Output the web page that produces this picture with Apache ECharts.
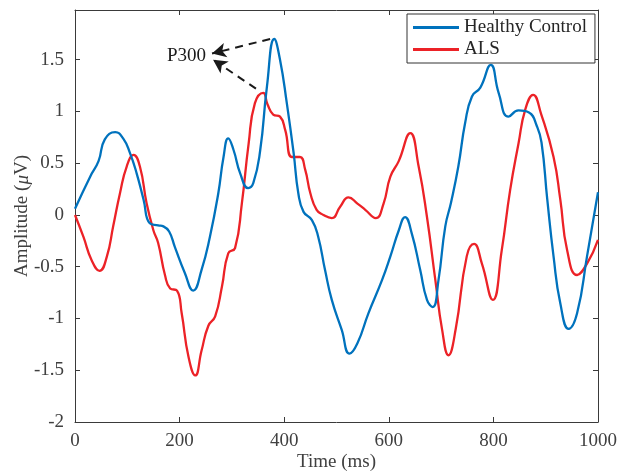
<!DOCTYPE html>
<html lang="en">
<head>
    <meta charset="UTF-8">
    <title>ERP P300</title>
    <script src="https://cdn.jsdelivr.net/npm/echarts@6/dist/echarts.min.js"></script>
    <style type="text/css">
        html, body {
          height: 100%;
          margin: 0;
          background-color: #ffffff;
        }
        #main {
          width: 621px;
          height: 474px;
          margin: 0;
        }
    </style>
</head>
<body>
    <div id="main"></div>
    <script type="text/javascript">
        // Healthy control curve (time in ms, amplitude in uV)
        var hcTime = [0, 29, 45, 57, 77, 92, 105, 118, 131, 143, 159, 169, 180, 191, 210, 226, 242, 258, 274, 284,
                      293, 303, 316, 331, 341, 354, 367, 381, 392, 405, 418, 427, 437, 453, 465, 478, 491, 510, 525, 540,
                      561, 587, 603, 619, 631, 644, 660, 673, 684, 695, 708, 719, 733, 746, 759, 775, 795, 810, 829, 848,
                      868, 883, 892, 903, 915, 928, 944, 960, 979, 1000];
        var hcAmp  = [0.06, 0.37, 0.52, 0.73, 0.80, 0.74, 0.60, 0.40, 0.15, -0.08, -0.10, -0.11, -0.16, -0.31, -0.56, -0.73, -0.53, -0.21, 0.21, 0.56,
                      0.74, 0.63, 0.40, 0.26, 0.31, 0.62, 1.24, 1.70, 1.50, 1.08, 0.60, 0.21, 0.03, -0.05, -0.21, -0.53, -0.82, -1.11, -1.34, -1.24,
                      -0.95, -0.63, -0.40, -0.15, -0.02, -0.18, -0.53, -0.82, -0.89, -0.63, -0.11, 0.12, 0.47, 0.89, 1.145, 1.23, 1.45, 1.18, 0.95, 1.01,
                      0.99, 0.86, 0.70, 0.15, -0.40, -0.855, -1.10, -0.95, -0.40, 0.22];

        // ALS curve
        var alsTime = [0, 16, 32, 47, 61, 73, 86, 99, 112, 124, 137, 150, 159, 172, 182, 195, 204, 217, 230, 242,
                       255, 268, 281, 293, 306, 319, 332, 344, 360, 368, 379, 392, 402, 415, 430, 440, 450, 462, 475, 491,
                       507, 523, 540, 555, 575, 590, 603, 619, 641, 657, 673, 689, 702, 714, 728, 749, 763, 778, 799, 816,
                       832, 848, 861, 876, 891, 915, 928, 941, 960, 979, 1000];
        var alsAmp  = [0, -0.21, -0.44, -0.54, -0.40, -0.11, 0.21, 0.47, 0.58, 0.47, 0.11, -0.15, -0.27, -0.58, -0.71, -0.73, -0.95, -1.37, -1.55, -1.31,
                       -1.07, -0.98, -0.69, -0.37, -0.32, 0.11, 0.69, 1.08, 1.18, 1.07, 0.97, 0.95, 0.82, 0.56, 0.56, 0.44, 0.21, 0.05, 0.00, -0.03,
                       0.08, 0.17, 0.11, 0.05, -0.03, 0.11, 0.37, 0.52, 0.79, 0.47, -0.02, -0.63, -1.11, -1.355, -1.10, -0.40, -0.28, -0.47, -0.82, -0.34,
                       0.24, 0.69, 1.02, 1.16, 0.98, 0.56, 0.145, -0.34, -0.58, -0.47, -0.24];

        // axis ticks
        var xTicks = [0, 1000, 200];
        var yTicks = [-2, 1.98, 0.5];

        // P300 annotation: arrow start -> arrow tip (data coords)
        var arrowFrom = [[373, 1.70], [346, 1.22]];
        var arrowTo   = [[262, 1.56], [264, 1.50]];

        function pairs(xs, ys) {
            return xs.map(function (x, i) { return [x, ys[i]]; });
        }

        var axisColor = '#3a3a3a';
        var textColor = '#404040';
        var serif = 'Liberation Serif';

        var chart = echarts.init(document.getElementById('main'), null, { renderer: 'canvas' });

        // the top/right axes only mirror the ticks (MATLAB box on)
        function axisBase(pos, showLabel) {
            return {
                type: 'value',
                position: pos,
                axisLine: { show: true, onZero: false, lineStyle: { color: axisColor, width: 1 } },
                axisTick: { show: true, inside: true, length: 5, lineStyle: { color: axisColor } },
                splitLine: { show: false },
                axisLabel: { show: showLabel, color: textColor, fontFamily: serif, fontSize: 19 }
            };
        }

        var xMain = axisBase('bottom', true);
        xMain.min = xTicks[0]; xMain.max = xTicks[1]; xMain.interval = xTicks[2];
        xMain.axisLabel.margin = 10;
        xMain.axisLabel.formatter = function (v) { return String(v); };
        xMain.name = 'Time (ms)';
        xMain.nameLocation = 'middle';
        xMain.nameGap = 31;
        xMain.nameMoveOverlap = false;
        xMain.nameTextStyle = { color: textColor, fontFamily: serif, fontSize: 19 };

        var xTop = axisBase('top', false);
        xTop.min = xTicks[0]; xTop.max = xTicks[1]; xTop.interval = xTicks[2];

        var yMain = axisBase('left', true);
        yMain.min = yTicks[0]; yMain.max = yTicks[1]; yMain.interval = yTicks[2];
        yMain.axisLabel.margin = 11;
        yMain.axisLabel.formatter = function (v) {
            return Math.abs(v * 2 - Math.round(v * 2)) < 1e-6 ? String(v) : '';
        };
        yMain.name = 'Amplitude ({i|μ}V)';
        yMain.nameLocation = 'middle';
        yMain.nameGap = 43;
        yMain.nameMoveOverlap = false;
        yMain.nameTextStyle = {
            color: textColor, fontFamily: serif, fontSize: 19,
            rich: { i: { fontStyle: 'italic', fontFamily: serif, fontSize: 19, color: textColor } }
        };

        var yRight = axisBase('right', false);
        yRight.min = yTicks[0]; yRight.max = yTicks[1]; yRight.interval = yTicks[2];

        var option = {
            animation: false,
            backgroundColor: '#ffffff',
            grid: { left: 75, right: 23, top: 10, bottom: 52, outerBoundsMode: 'none' },
            legend: {
                orient: 'vertical',
                left: 407,
                top: 14,
                padding: [4, 8, 4, 6],
                itemGap: 3,
                itemWidth: 46,
                itemHeight: 3,
                itemTextGap: 6,
                icon: 'rect',
                borderColor: '#333333',
                borderWidth: 1,
                backgroundColor: '#ffffff',
                textStyle: { color: '#262626', fontFamily: serif, fontSize: 19 },
                data: ['Healthy Control', 'ALS']
            },
            graphic: [{
                type: 'text',
                left: 167,
                top: 47,
                style: { text: 'P300', fill: '#1a1a1a', font: '19px "Liberation Serif"' }
            }],
            xAxis: [xMain, xTop],
            yAxis: [yMain, yRight],
            series: [
                {
                    name: 'Healthy Control',
                    type: 'line',
                    data: pairs(hcTime, hcAmp),
                    smooth: 0.5,
                    showSymbol: false,
                    lineStyle: { color: '#0072bd', width: 2.3 },
                    itemStyle: { color: '#0072bd' },
                    z: 3,
                    markLine: {
                        silent: true,
                        symbol: ['none', 'arrow'],
                        symbolSize: [11, 14],
                        label: { show: false },
                        lineStyle: { color: '#1a1a1a', width: 2, type: [8, 6] },
                        data: arrowFrom.map(function (p, i) {
                            return [{ coord: p }, { coord: arrowTo[i] }];
                        })
                    }
                },
                {
                    name: 'ALS',
                    type: 'line',
                    data: pairs(alsTime, alsAmp),
                    smooth: 0.5,
                    showSymbol: false,
                    lineStyle: { color: '#ec2227', width: 2.3 },
                    itemStyle: { color: '#ec2227' },
                    z: 2
                }
            ]
        };
        chart.setOption(option);
    </script>
</body>
</html>
